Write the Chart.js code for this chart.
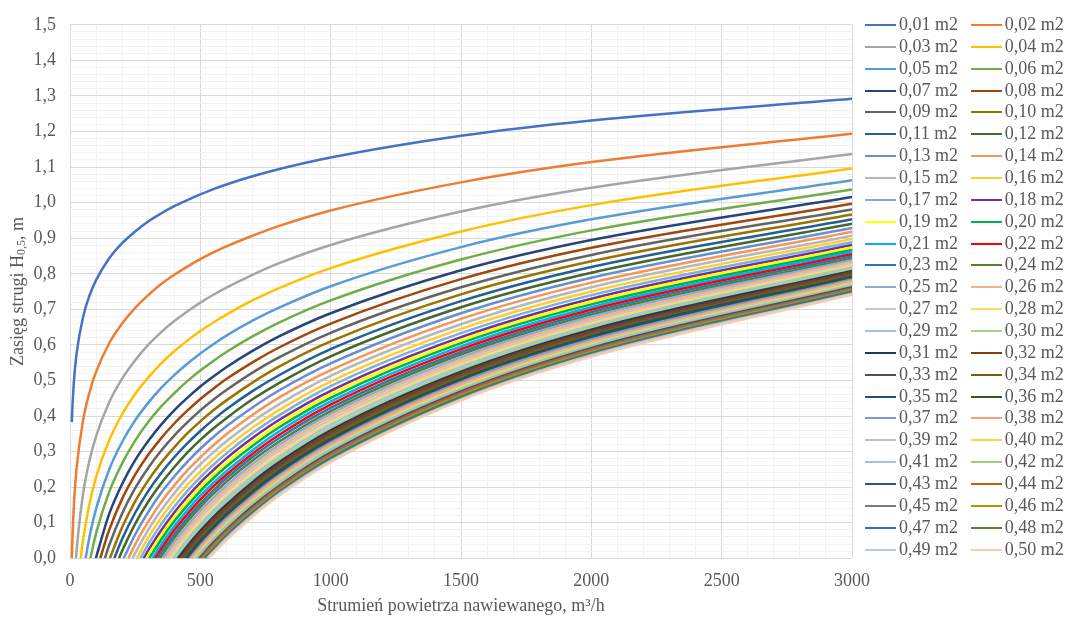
<!DOCTYPE html>
<html><head><meta charset="utf-8">
<script src="https://cdn.jsdelivr.net/npm/chart.js@4.4.1/dist/chart.umd.min.js"></script>
<style>
html,body{margin:0;padding:0;background:#fff;}
#wrap{position:relative;width:1072px;height:623px;overflow:hidden;}
canvas{position:absolute;left:0;top:0;}
#legend{position:absolute;left:865px;top:14px;display:grid;grid-template-columns:105.7px 105.7px;grid-auto-rows:21.86px;font:18px "Liberation Serif","Times New Roman",serif;color:#595959;}
.li{display:flex;align-items:center;white-space:nowrap;line-height:21.86px;}
.sw{width:31px;height:0;border-top:2px solid;margin-right:3px;flex:none;}
</style></head>
<body><div id="wrap"><canvas id="c" width="1072" height="623"></canvas><div id="legend"></div></div>
<script>
// Flow rate grid (m3/h) at which curve heights are read
const QS = [10,15,25,50,75,100,150,200,250,300,350,400,450,500,550,600,700,800,1000,1500,2000,3000];

const LABELS = ['0,01 m2','0,02 m2','0,03 m2','0,04 m2','0,05 m2','0,06 m2','0,07 m2','0,08 m2','0,09 m2','0,10 m2',
'0,11 m2','0,12 m2','0,13 m2','0,14 m2','0,15 m2','0,16 m2','0,17 m2','0,18 m2','0,19 m2','0,20 m2',
'0,21 m2','0,22 m2','0,23 m2','0,24 m2','0,25 m2','0,26 m2','0,27 m2','0,28 m2','0,29 m2','0,30 m2',
'0,31 m2','0,32 m2','0,33 m2','0,34 m2','0,35 m2','0,36 m2','0,37 m2','0,38 m2','0,39 m2','0,40 m2',
'0,41 m2','0,42 m2','0,43 m2','0,44 m2','0,45 m2','0,46 m2','0,47 m2','0,48 m2','0,49 m2','0,50 m2'];

const COLORS = ['#4472C4','#ED7D31','#A5A5A5','#FFC000','#5B9BD5','#70AD47','#264478','#9E480E','#636363','#997300',
'#255E91','#43682B','#698ED0','#F1975A','#B7B7B7','#FFCD33','#7CAFDD','#7030A0','#FFFF00','#00B050',
'#00B0F0','#FF0000','#2E75B6','#548235','#8FAADC','#F4B183','#C9C9C9','#FFD966','#9DC3E6','#A9D18E',
'#203864','#843C0C','#525252','#7F6000','#1F4E79','#385723','#7F9BD5','#F3A475','#BFBFBF','#FFD43D',
'#9CC2E5','#9CCB7E','#2F528F','#C55A11','#7B7B7B','#BF9000','#2E75B6','#538135','#B4C7E7','#F8CBAD'];

// first point of each curve (flow where the curve starts, and its height)
const START_Q = [7,7,23,41,60,78,99,116,134,153,170,188,206,224,240,256,270,283,294,304,316,326,336,346,357,367,377,387,396,405,414,422,430,438,445,452,459,466,472,478,484,490,496,502,507,512,517,522,527,532];
const START_H = [0.383,0,0,0,0,0,0,0,0,0,0,0,0,0,0,0,0,0,0,0,0,0,0,0,0,0,0,0,0,0,0,0,0,0,0,0,0,0,0,0,0,0,0,0,0,0,0,0,0,0];

// heights (m) at the last N points of QS
const s01 = [0.436,0.497,0.574,0.678,0.739,0.782,0.843,0.886,0.919,0.947,0.970,0.990,1.007,1.023,1.038,1.051,1.074,1.094,1.127,1.188,1.231,1.292];
const s02 = [0.070,0.150,0.251,0.387,0.467,0.524,0.604,0.660,0.704,0.740,0.771,0.797,0.820,0.841,0.860,0.877,0.907,0.934,0.978,1.057,1.114,1.194];
const s03 = [0.020,0.181,0.276,0.343,0.438,0.505,0.557,0.600,0.636,0.667,0.694,0.719,0.741,0.761,0.797,0.829,0.881,0.975,1.042,1.137];
const s04 = [0.051,0.154,0.228,0.331,0.405,0.462,0.508,0.548,0.582,0.612,0.639,0.663,0.685,0.725,0.759,0.816,0.919,0.993,1.096];
const s05 = [0.061,0.139,0.249,0.327,0.388,0.437,0.479,0.515,0.547,0.576,0.602,0.626,0.668,0.704,0.765,0.875,0.953,1.063];
const s06 = [0.070,0.186,0.267,0.331,0.383,0.427,0.464,0.498,0.528,0.555,0.580,0.624,0.662,0.725,0.840,0.922,1.037];
const s07 = [0.124,0.209,0.276,0.330,0.376,0.416,0.451,0.483,0.511,0.537,0.583,0.623,0.689,0.810,0.895,1.016];
const s08 = [0.079,0.167,0.235,0.291,0.338,0.379,0.415,0.448,0.477,0.504,0.551,0.592,0.660,0.785,0.873,0.997];
const s09 = [0.036,0.126,0.197,0.254,0.303,0.345,0.382,0.416,0.446,0.473,0.522,0.564,0.634,0.762,0.853,0.981];
const s10 = [0.087,0.160,0.219,0.269,0.312,0.351,0.385,0.416,0.444,0.494,0.538,0.610,0.742,0.835,0.967];
const s11 = [0.054,0.128,0.189,0.240,0.284,0.323,0.358,0.390,0.419,0.470,0.514,0.588,0.723,0.819,0.953];
const s12 = [0.021,0.097,0.159,0.211,0.256,0.297,0.333,0.365,0.394,0.447,0.492,0.568,0.706,0.803,0.941];
const s13 = [0.067,0.130,0.184,0.230,0.271,0.308,0.341,0.371,0.424,0.471,0.548,0.689,0.789,0.929];
const s14 = [0.039,0.103,0.158,0.205,0.247,0.284,0.318,0.349,0.403,0.451,0.529,0.673,0.775,0.918];
const s15 = [0.014,0.080,0.135,0.183,0.226,0.264,0.298,0.329,0.384,0.432,0.513,0.658,0.762,0.907];
const s16 = [0.058,0.114,0.163,0.206,0.244,0.279,0.311,0.367,0.416,0.497,0.645,0.750,0.898];
const s17 = [0.039,0.096,0.145,0.189,0.228,0.263,0.295,0.352,0.401,0.484,0.633,0.740,0.889];
const s18 = [0.022,0.079,0.129,0.173,0.213,0.248,0.281,0.338,0.388,0.471,0.622,0.730,0.881];
const s19 = [0.008,0.065,0.116,0.160,0.200,0.236,0.268,0.326,0.377,0.461,0.613,0.722,0.874];
const s20 = [0.053,0.104,0.148,0.189,0.225,0.258,0.316,0.367,0.451,0.605,0.714,0.867];
const s21 = [0.039,0.090,0.135,0.176,0.212,0.245,0.304,0.356,0.441,0.596,0.706,0.861];
const s22 = [0.027,0.079,0.124,0.165,0.202,0.235,0.294,0.346,0.432,0.588,0.699,0.855];
const s23 = [0.016,0.067,0.113,0.154,0.191,0.225,0.285,0.337,0.423,0.580,0.692,0.849];
const s24 = [0.005,0.057,0.103,0.144,0.181,0.215,0.275,0.327,0.414,0.573,0.685,0.843];
const s25 = [0.045,0.091,0.133,0.170,0.204,0.265,0.318,0.406,0.565,0.679,0.838];
const s26 = [0.034,0.081,0.123,0.161,0.195,0.256,0.309,0.398,0.558,0.672,0.833];
const s27 = [0.024,0.071,0.113,0.151,0.186,0.247,0.301,0.390,0.551,0.666,0.828];
const s28 = [0.013,0.061,0.103,0.141,0.176,0.238,0.292,0.382,0.545,0.660,0.823];
const s29 = [0.004,0.052,0.095,0.133,0.168,0.230,0.284,0.375,0.538,0.654,0.818];
const s30 = [0.043,0.086,0.124,0.160,0.222,0.277,0.367,0.532,0.649,0.813];
const s31 = [0.034,0.077,0.116,0.151,0.214,0.269,0.360,0.525,0.643,0.808];
const s32 = [0.026,0.070,0.109,0.144,0.207,0.262,0.354,0.520,0.638,0.804];
const s33 = [0.019,0.062,0.101,0.137,0.201,0.256,0.348,0.514,0.633,0.800];
const s34 = [0.011,0.055,0.094,0.130,0.194,0.249,0.342,0.509,0.628,0.796];
const s35 = [0.005,0.049,0.088,0.124,0.188,0.244,0.336,0.504,0.624,0.792];
const s36 = [0.042,0.082,0.118,0.182,0.238,0.331,0.499,0.619,0.788];
const s37 = [0.036,0.076,0.112,0.176,0.232,0.325,0.495,0.615,0.784];
const s38 = [0.030,0.070,0.106,0.170,0.227,0.320,0.490,0.610,0.780];
const s39 = [0.024,0.064,0.101,0.165,0.222,0.315,0.485,0.606,0.776];
const s40 = [0.019,0.059,0.095,0.160,0.217,0.310,0.481,0.602,0.772];
const s41 = [0.014,0.054,0.091,0.155,0.212,0.306,0.476,0.598,0.768];
const s42 = [0.009,0.049,0.086,0.151,0.207,0.301,0.472,0.594,0.765];
const s43 = [0.003,0.044,0.080,0.146,0.202,0.297,0.469,0.591,0.762];
const s44 = [0.039,0.076,0.141,0.198,0.293,0.465,0.587,0.759];
const s45 = [0.034,0.071,0.137,0.194,0.289,0.461,0.584,0.756];
const s46 = [0.031,0.068,0.133,0.190,0.285,0.458,0.580,0.753];
const s47 = [0.026,0.064,0.129,0.186,0.282,0.454,0.577,0.750];
const s48 = [0.022,0.059,0.125,0.182,0.278,0.451,0.574,0.747];
const s49 = [0.018,0.056,0.121,0.179,0.274,0.447,0.571,0.744];
const s50 = [0.014,0.051,0.117,0.175,0.270,0.444,0.567,0.741];

const SERIES = [s01,s02,s03,s04,s05,s06,s07,s08,s09,s10,s11,s12,s13,s14,s15,s16,s17,s18,s19,s20,
s21,s22,s23,s24,s25,s26,s27,s28,s29,s30,s31,s32,s33,s34,s35,s36,s37,s38,s39,s40,
s41,s42,s43,s44,s45,s46,s47,s48,s49,s50];

const X_TITLE = 'Strumień powietrza nawiewanego, m³/h';
const Y_TITLE = ['Zasięg strugi H', '0,5', ', m'];

const FONT = '"Liberation Serif","Times New Roman",serif';
const TXT = '#595959';

const datasets = SERIES.map((vals, i) => {
  const off = QS.length - vals.length;
  const data = [{x: START_Q[i], y: START_H[i]}].concat(vals.map((v, j) => ({x: QS[off + j], y: v})));
  return {
    label: LABELS[i], data,
    borderColor: COLORS[i], backgroundColor: COLORS[i],
    borderWidth: 2.5, pointRadius: 0, pointHoverRadius: 0,
    cubicInterpolationMode: 'monotone', fill: false,
    order: SERIES.length - i
  };
});

const yTitlePlugin = {
  id: 'yTitle',
  afterDraw(chart) {
    const ctx = chart.ctx, a = chart.chartArea;
    ctx.save();
    ctx.translate(18, (a.top + a.bottom) / 2);
    ctx.rotate(-Math.PI / 2);
    ctx.fillStyle = TXT;
    ctx.textBaseline = 'middle';
    const big = '18px ' + FONT, small = '12px ' + FONT;
    const parts = [[Y_TITLE[0], big, 0], [Y_TITLE[1], small, 4], [Y_TITLE[2], big, 0]];
    let w = 0;
    parts.forEach(p => { ctx.font = p[1]; p.push(ctx.measureText(p[0]).width); w += p[3]; });
    let x = -w / 2;
    parts.forEach(p => { ctx.font = p[1]; ctx.fillText(p[0], x, p[2]); x += p[3]; });
    ctx.restore();
  }
};

const isMajorY = v => Math.round(v * 50) % 5 === 0;
const isMajorX = v => Math.round(v) % 500 === 0;

new Chart(document.getElementById('c'), {
  type: 'line',
  data: { datasets },
  options: {
    responsive: false,
    animation: false,
    devicePixelRatio: 1,
    layout: { padding: { top: 16.7, right: 220, bottom: 0, left: 0 } },
    plugins: { legend: { display: false }, tooltip: { enabled: false } },
    scales: {
      x: {
        type: 'linear', min: 0, max: 3000,
        afterFit(s) { s.height = 64.7; },
        border: { display: false },
        grid: { drawTicks: false, color: c => isMajorX(c.tick.value) ? '#d9d9d9' : '#f2f2f2', lineWidth: 1 },
        ticks: {
          stepSize: 100, autoSkip: false, maxRotation: 0, padding: 12,
          color: TXT, font: { family: FONT, size: 18 },
          callback: v => isMajorX(v) ? String(Math.round(v)) : ''
        },
        title: { display: true, text: X_TITLE, color: TXT, font: { family: FONT, size: 18 }, padding: { top: 0, bottom: 6 } }
      },
      y: {
        type: 'linear', min: 0, max: 1.5,
        afterFit(s) { s.width = 70; },
        border: { display: false },
        grid: { drawTicks: false, color: c => isMajorY(c.tick.value) ? '#d9d9d9' : '#f2f2f2', lineWidth: 1 },
        ticks: {
          stepSize: 0.02, autoSkip: false, padding: 14,
          color: TXT, font: { family: FONT, size: 18 },
          callback: v => isMajorY(v) ? (Math.round(v * 10) / 10).toFixed(1).replace('.', ',') : ''
        }
      }
    }
  },
  plugins: [yTitlePlugin]
});

// legend (row-major, two columns) built from the datasets
const leg = document.getElementById('legend');
LABELS.forEach((lab, i) => {
  const d = document.createElement('div'); d.className = 'li';
  const sw = document.createElement('span'); sw.className = 'sw'; sw.style.borderTopColor = COLORS[i];
  const t = document.createElement('span'); t.textContent = lab;
  d.appendChild(sw); d.appendChild(t); leg.appendChild(d);
});
</script>
</body></html>
